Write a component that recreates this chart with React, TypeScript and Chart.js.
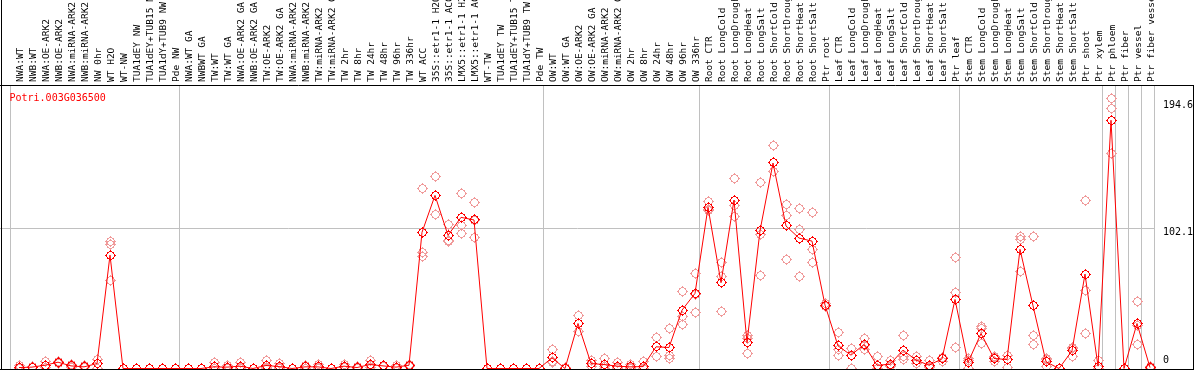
import React, { useEffect, useRef } from 'react';
import { Chart, registerables } from 'chart.js';

Chart.register(...registerables);

const geneId = 'Potri.003G036500';

const categories = [
  'NWA:WT', 'NWB:WT', 'NWA:OE-ARK2', 'NWB:OE-ARK2', 'NWA:miRNA-ARK2', 'NWB:miRNA-ARK2',
  'NW 0hr', 'WT H2O', 'WT-NW', 'TUA1dEY NW', 'TUA1dEY+TUB15 NW', 'TUA1dY+TUB9 NW', 'Pde NW',
  'NWA:WT GA', 'NWBWT GA', 'TW:WT', 'TW:WT GA', 'NWA:OE-ARK2 GA', 'NWB:OE-ARK2 GA',
  'TW:OE-ARK2', 'TW:OE-ARK2 GA', 'NWA:miRNA-ARK2 GA', 'NWB:miRNA-ARK2 GA', 'TW:miRNA-ARK2',
  'TW:miRNA-ARK2 GA', 'TW 2hr', 'TW 8hr', 'TW 24hr', 'TW 48hr', 'TW 96hr', 'TW 336hr',
  'WT ACC', '35S::etr1-1 H2O', '35S::etr1-1 ACC', 'LMX5::etr1-1 H2O', 'LMX5::etr1-1 ACC',
  'WT-TW', 'TUA1dEY TW', 'TUA1dEY+TUB15 TW', 'TUA1dY+TUB9 TW', 'Pde TW',
  'OW:WT', 'OW:WT GA', 'OW:OE-ARK2', 'OW:OE-ARK2 GA', 'OW:miRNA-ARK2', 'OW:miRNA-ARK2 GA',
  'OW 2hr', 'OW 8hr', 'OW 24hr', 'OW 48hr', 'OW 96hr', 'OW 336hr',
  'Root CTR', 'Root LongCold', 'Root LongDrought', 'Root LongHeat', 'Root LongSalt',
  'Root ShortCold', 'Root ShortDrought', 'Root ShortHeat', 'Root ShortSalt', 'Ptr root',
  'Leaf CTR', 'Leaf LongCold', 'Leaf LongDrought', 'Leaf LongHeat', 'Leaf LongSalt',
  'Leaf ShortCold', 'Leaf ShortDrought', 'Leaf ShortHeat', 'Leaf ShortSalt', 'Ptr leaf',
  'Stem CTR', 'Stem LongCold', 'Stem LongDrought', 'Stem LongHeat', 'Stem LongSalt',
  'Stem ShortCold', 'Stem ShortDrought', 'Stem ShortHeat', 'Stem ShortSalt', 'Ptr shoot',
  'Ptr xylem', 'Ptr phloem', 'Ptr fiber', 'Ptr vessel', 'Ptr fiber vessel',
];

const meanValues = [
  0.7, 1.0, 2.4, 4.6, 1.9, 1.2, 3.6, 82.6, 0, 0, 0, 0, 0,
  0, 0, 1.2, 1.0, 1.7, 0, 2.2, 1.4, 0, 1.2, 1.2, 0, 1.7, 0.7, 2.9, 1.9, 1.0, 2.4,
  99.2, 126.1, 97.0, 110.1, 108.2, 0, 0, 0, 0, 0,
  7.8, 0, 32.8, 3.6, 2.9, 1.7, 1.2, 1.4, 15.8, 15.3, 42.5, 54.7,
  117.4, 62.5, 122.7, 18.9, 100.4, 149.7, 103.8, 95.0, 92.8, 46.2,
  16.5, 9.7, 17.5, 2.3, 3.1, 13.4, 6.1, 2.4, 7.0, 50.3,
  4.4, 25.5, 7.3, 6.5, 86.8, 45.7, 4.9, 0, 12.9, 68.8, 1.7,
  180.8, 0, 32.8, 0.7,
];

const replicateValues: number[][] = [
  [2.0, 0.3, 0], [1.5, 1.0, 0.5], [4.8, 2.0, 0.4], [5.3, 4.6, 3.9], [3.0, 1.8, 0.9],
  [2.0, 1.2, 0.4], [6.5, 4.0, 0.3], [92.4, 90.6, 63.9], [0, 0, 0], [0, 0, 0],
  [0, 0, 0], [0, 0, 0], [0, 0, 0],
  [0, 0, 0], [0, 0, 0], [4.1, 0, 0], [2.2, 0.8, 0], [4.1, 1.0, 0], [0, 0, 0],
  [5.5, 1.0, 0.1], [3.5, 0.7, 0], [0, 0, 0], [2.2, 1.2, 0.2], [3.0, 0.6, 0], [0, 0, 0],
  [3.1, 1.6, 0.4], [1.7, 0.4, 0], [6.1, 2.2, 0.4], [2.2, 1.9, 1.6], [2.2, 0.8, 0],
  [3.1, 2.6, 1.5], [131.3, 84.6, 81.4], [140.0, 126.0, 112.3], [105.0, 93.3, 92.7],
  [127.6, 104.3, 98.0], [121.0, 108.1, 95.5], [0, 0, 0], [0, 0, 0], [0, 0, 0],
  [0, 0, 0], [0, 0, 0],
  [14.1, 5.2, 4.1], [0.5, 0, 0], [38.7, 33.0, 26.7], [5.5, 3.6, 1.7], [7.0, 1.5, 0.2],
  [4.1, 1.0, 0], [3.1, 0.5, 0], [4.8, 0, 0], [22.6, 16.1, 8.7], [29.4, 9.2, 7.3],
  [56.4, 37.7, 32.3], [69.5, 53.8, 40.8],
  [121.3, 116.0, 115.0], [77.3, 66.8, 41.8], [138.5, 118.6, 111.0], [23.8, 22.0, 10.9],
  [135.6, 97.6, 68.0], [162.1, 143.6, 143.4], [119.8, 111.8, 79.7], [116.2, 101.4, 67.2],
  [113.7, 86.8, 77.3], [47.4, 46.0, 45.2],
  [26.3, 14.0, 9.2], [14.6, 14.5, 0], [21.9, 16.7, 13.9], [9.0, 0, 0], [5.6, 2.5, 1.2],
  [24.1, 8.5, 6.5], [8.5, 6.1, 3.7], [5.6, 1.2, 0.4], [7.8, 8.3, 4.9], [81.0, 55.4, 15.5],
  [7.3, 5.9, 0], [30.4, 29.2, 18.2], [8.5, 8.3, 5.1], [9.7, 9.2, 0.6], [96.0, 93.6, 70.5],
  [96.5, 24.3, 17.5], [6.5, 7.0, 1.2], [0, 0, 0], [15.5, 14.6, 8.5], [122.5, 57.1, 25.5],
  [6.1, 0, 0], [196.9, 189.1, 156.8], [0, 0, 0], [49.1, 31.6, 17.7], [1.7, 0.4, 0],
];

const yTickValues = [0, 102.1, 194.6];
const yGridValue = 102.1;
const groupBoundaries = [0, 13, 41, 53, 63, 73, 84, 85, 86, 87, 88];

// layout constants
const CAT_W = 13;
const FIRST_X = 19;
const PLOT_RIGHT = 1155;
const X_MIN = -FIRST_X / CAT_W;
const X_MAX = (PLOT_RIGHT - FIRST_X) / CAT_W;
const BOUNDARY_SHIFT = 8.3 / CAT_W;
const Y_MAX = 206.5;
const GRID = '#c0c0c0';
const MONO = '"DejaVu Sans Mono", monospace';
const LABEL_SIZE = 9.5;

// pixel circle (midpoint, radius 4) with small ticks at the four compass points
function makeMarker(color: string): HTMLCanvasElement {
  const c = document.createElement('canvas');
  c.width = 11;
  c.height = 11;
  const g = c.getContext('2d')!;
  g.fillStyle = color;
  const octant = [[0, 4], [1, 4], [2, 3], [3, 3]];
  const pts: number[][] = [];
  for (const [a, b] of octant) {
    for (const [p, q] of [[a, b], [b, a]]) {
      pts.push([p, q], [-p, q], [p, -q], [-p, -q]);
    }
  }
  pts.push([0, 5], [0, -5], [5, 0], [-5, 0]);
  for (const [dx, dy] of pts) g.fillRect(5 + dx, 5 + dy, 1, 1);
  return c;
}

const framePlugin = {
  id: 'frameAndTitle',
  beforeDatasetsDraw(chart: any) {
    chart.ctx.imageSmoothingEnabled = false;
  },
  afterDraw(chart: any) {
    const { ctx, chartArea, width, height } = chart;
    ctx.save();
    ctx.strokeStyle = '#000';
    ctx.lineWidth = 1;
    const top = Math.round(chartArea.top) + 0.5;
    const bottom = Math.round(chartArea.bottom) + 0.5;
    ctx.beginPath();
    ctx.moveTo(0, top);
    ctx.lineTo(width, top);
    ctx.moveTo(0, bottom);
    ctx.lineTo(width, bottom);
    ctx.moveTo(1.5, 0);
    ctx.lineTo(1.5, height);
    ctx.moveTo(width - 0.5, top);
    ctx.lineTo(width - 0.5, height);
    ctx.stroke();
    ctx.fillStyle = '#ff0000';
    ctx.font = `10px ${MONO}`;
    ctx.textBaseline = 'alphabetic';
    ctx.textAlign = 'left';
    ctx.fillText(geneId, chartArea.left + 9.5, chartArea.top + 16);
    ctx.restore();
  },
};

export default function App() {
  const ref = useRef<HTMLCanvasElement | null>(null);

  useEffect(() => {
    if (!ref.current) return;
    const redMarker = makeMarker('#ff0000');
    const pinkMarker = makeMarker('#f09a9a');

    const chart = new Chart(ref.current, {
      type: 'line',
      data: {
        datasets: [
          {
            label: 'mean',
            data: meanValues.map((v, i) => ({ x: i, y: v })),
            borderColor: '#ff0000',
            borderWidth: 1,
            pointStyle: redMarker as any,
            pointRadius: 4,
            tension: 0,
            clip: false as any,
            xAxisID: 'x',
            yAxisID: 'y',
          },
          {
            label: 'replicates',
            data: replicateValues.flatMap((arr, i) => arr.map((v) => ({ x: i, y: v }))),
            showLine: false,
            borderColor: '#f09a9a',
            pointStyle: pinkMarker as any,
            pointRadius: 4,
            clip: false as any,
            xAxisID: 'x',
            yAxisID: 'y',
          },
        ],
      },
      options: {
        responsive: false,
        devicePixelRatio: 1,
        animation: false,
        events: [],
        layout: { autoPadding: false, padding: { left: 0, right: 0, top: 0, bottom: 1.5 } },
        plugins: { legend: { display: false }, tooltip: { enabled: false }, title: { display: false } },
        scales: {
          x: {
            type: 'linear',
            position: 'top',
            min: X_MIN,
            max: X_MAX,
            afterBuildTicks: (s: any) => {
              s.ticks = categories.map((_, i) => ({ value: i }));
            },
            afterFit: (s: any) => {
              s.height = 85;
              s.paddingLeft = 0;
              s.paddingRight = 0;
            },
            ticks: {
              autoSkip: false,
              minRotation: 90,
              maxRotation: 90,
              padding: 3,
              labelOffset: LABEL_SIZE * 1.2 + 1.5,
              color: '#000',
              font: { family: MONO, size: LABEL_SIZE },
              callback: (v: any) => categories[Math.round(Number(v))] ?? '',
            },
            grid: { display: false, drawTicks: false },
            border: { display: false },
          },
          xg: {
            type: 'linear',
            position: 'bottom',
            min: X_MIN,
            max: X_MAX,
            afterBuildTicks: (s: any) => {
              s.ticks = groupBoundaries.map((n) => ({ value: n - BOUNDARY_SHIFT }));
            },
            afterFit: (s: any) => {
              s.height = 0;
              s.paddingLeft = 0;
              s.paddingRight = 0;
            },
            ticks: { display: false },
            grid: { color: GRID, lineWidth: 1, drawTicks: false },
            border: { display: false },
          },
          y: {
            type: 'linear',
            position: 'right',
            min: 0,
            max: Y_MAX,
            afterBuildTicks: (s: any) => {
              s.ticks = yTickValues.map((v) => ({ value: v }));
            },
            afterFit: (s: any) => {
              s.width = 39;
              s.paddingTop = 0;
              s.paddingBottom = 0;
            },
            ticks: {
              align: 'start',
              padding: 8,
              labelOffset: -1,
              color: '#000',
              font: { family: MONO, size: 10 },
              // the baseline label sits above its line, the others below theirs
              callback: (v: any) => (Number(v) === 0 ? ['0', '', ''] : String(v)),
            },
            grid: {
              drawTicks: false,
              color: (ctx: any) => (ctx.tick && ctx.tick.value === yGridValue ? GRID : 'rgba(0,0,0,0)'),
            },
            border: { display: false },
          },
        },
      } as any,
      plugins: [framePlugin],
    });
    return () => chart.destroy();
  }, []);

  return (
    <div style={{ position: 'fixed', left: 0, top: 0, width: 1194, height: 370, background: '#fff' }}>
      <canvas ref={ref} width={1194} height={370} style={{ display: 'block' }} />
    </div>
  );
}
